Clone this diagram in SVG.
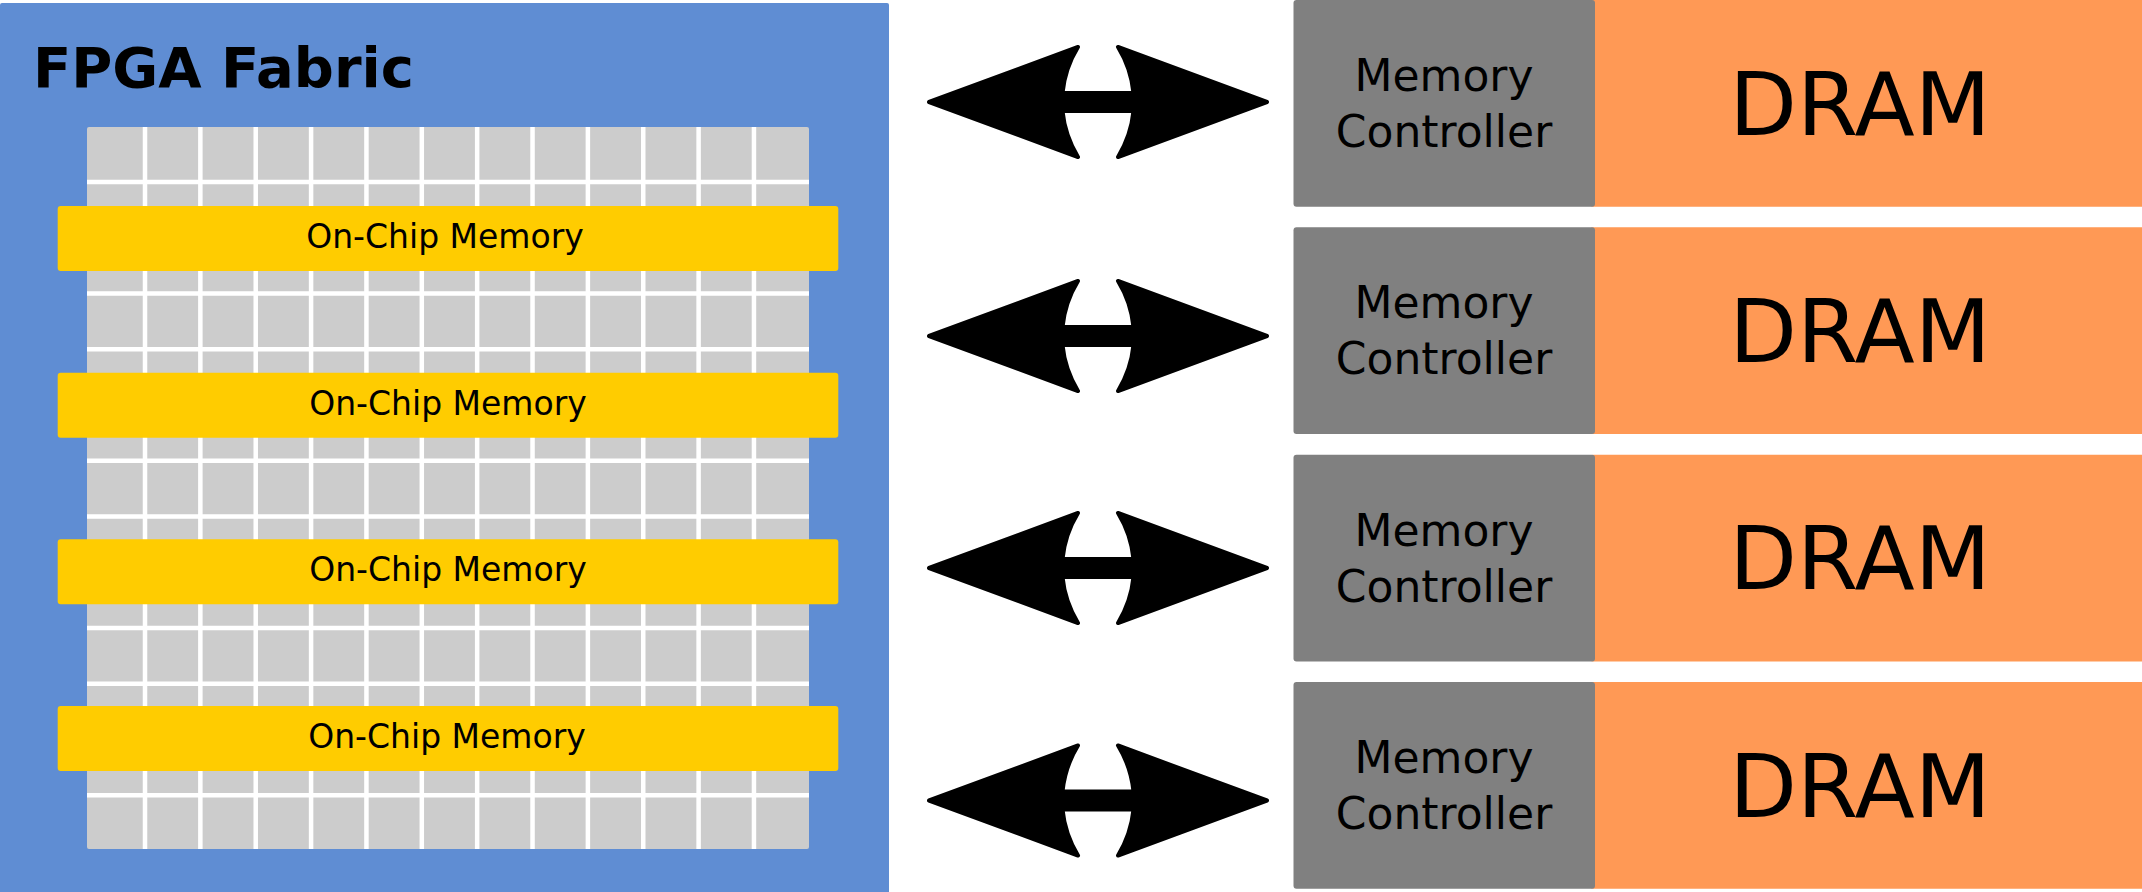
<svg xmlns="http://www.w3.org/2000/svg" xmlns:xlink="http://www.w3.org/1999/xlink" width="2142" height="892" viewBox="0 0 2142 892">
<style>
.t{font-family:"DejaVu Sans","Liberation Sans",sans-serif;fill:#000}
.ocm{font-size:33px;text-anchor:middle}
.mc{font-size:44px;text-anchor:middle}
.dram{font-size:88px;text-anchor:middle}
.bar{fill:#ffcc00}
.ctl{fill:#808080}
.drm{fill:#ff9955}
</style>
<defs>
<path id="arrow" d="M -169,0 L -20,-55 A 109.2 109.2 0 0 0 -35.5,-9 L 35.5,-9 A 109.2 109.2 0 0 0 20,-55 L 169,0 L 20,55 A 109.2 109.2 0 0 0 35.5,9 L -35.5,9 A 109.2 109.2 0 0 0 -20,55 Z" fill="#000" stroke="#000" stroke-width="4" stroke-linejoin="round"/>
</defs>
<rect width="2142" height="892" fill="#fff"/>
<g id="fpga">
<rect x="0" y="3" width="889" height="892" rx="2" fill="#5f8dd3"/>
<text class="t" x="33" y="87" font-size="56" font-weight="bold">FPGA Fabric</text>
<rect x="87" y="127" width="722" height="722" rx="2" fill="#cccccc"/>
<path stroke="#fff" stroke-width="4.5" fill="none" d="M145,127V849M200.36,127V849M255.72,127V849M311.08,127V849M366.44,127V849M421.8,127V849M477.16,127V849M532.52,127V849M587.88,127V849M643.24,127V849M698.6,127V849M753.96,127V849M87,182H809M87,237.75H809M87,293.5H809M87,349.25H809M87,405H809M87,460.75H809M87,516.5H809M87,572.25H809M87,628H809M87,683.75H809M87,739.5H809M87,795.25H809"/>
</g>
<g id="ocm1"><rect class="bar" x="57.7" y="206" width="780.6" height="65" rx="3"/><text class="t ocm" x="445" y="248">On-Chip Memory</text></g>
<g id="ocm2"><rect class="bar" x="57.7" y="372.7" width="780.6" height="65" rx="3"/><text class="t ocm" x="448" y="414.7">On-Chip Memory</text></g>
<g id="ocm3"><rect class="bar" x="57.7" y="539.3" width="780.6" height="65" rx="3"/><text class="t ocm" x="448" y="581.3">On-Chip Memory</text></g>
<g id="ocm4"><rect class="bar" x="57.7" y="706" width="780.6" height="65" rx="3"/><text class="t ocm" x="447" y="748">On-Chip Memory</text></g>
<g id="connectors">
<use xlink:href="#arrow" href="#arrow" x="1098" y="102"/>
<use xlink:href="#arrow" href="#arrow" x="1098" y="336"/>
<use xlink:href="#arrow" href="#arrow" x="1098" y="568"/>
<use xlink:href="#arrow" href="#arrow" x="1098" y="800.5"/>
</g>
<g id="mem1">
<rect class="drm" x="1590" y="0" width="555" height="206.7" rx="3"/>
<rect class="ctl" x="1293.5" y="0" width="301.5" height="206.7" rx="3"/>
<text class="t mc" x="1444" y="91">Memory</text><text class="t mc" x="1444" y="147">Controller</text>
<text class="t dram" x="1860" y="134.5">DRAM</text>
</g>
<g id="mem2">
<rect class="drm" x="1590" y="227.3" width="555" height="206.7" rx="3"/>
<rect class="ctl" x="1293.5" y="227.3" width="301.5" height="206.7" rx="3"/>
<text class="t mc" x="1444" y="318.3">Memory</text><text class="t mc" x="1444" y="374.3">Controller</text>
<text class="t dram" x="1860" y="361.8">DRAM</text>
</g>
<g id="mem3">
<rect class="drm" x="1590" y="454.7" width="555" height="206.7" rx="3"/>
<rect class="ctl" x="1293.5" y="454.7" width="301.5" height="206.7" rx="3"/>
<text class="t mc" x="1444" y="545.7">Memory</text><text class="t mc" x="1444" y="601.7">Controller</text>
<text class="t dram" x="1860" y="589.2">DRAM</text>
</g>
<g id="mem4">
<rect class="drm" x="1590" y="682" width="555" height="206.7" rx="3"/>
<rect class="ctl" x="1293.5" y="682" width="301.5" height="206.7" rx="3"/>
<text class="t mc" x="1444" y="773">Memory</text><text class="t mc" x="1444" y="829">Controller</text>
<text class="t dram" x="1860" y="816.5">DRAM</text>
</g>
</svg>
